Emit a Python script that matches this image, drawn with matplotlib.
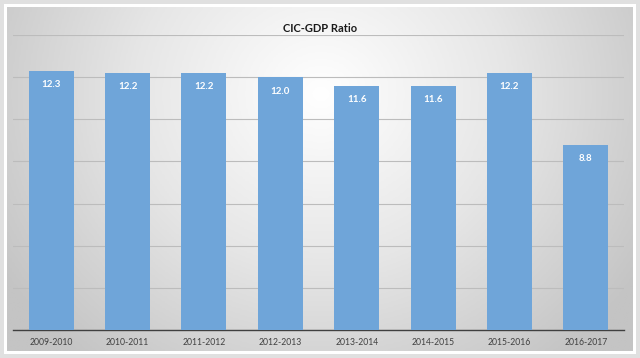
import numpy as np
import matplotlib
matplotlib.use("Agg")
import matplotlib.pyplot as plt
from matplotlib.colors import LinearSegmentedColormap

categories = ["2009-2010", "2010-2011", "2011-2012", "2012-2013",
              "2013-2014", "2014-2015", "2015-2016", "2016-2017"]
values = [12.3, 12.2, 12.2, 12.0, 11.6, 11.6, 12.2, 8.8]
title = "CIC-GDP Ratio"

plt.rcParams['font.family'] = ['Lato', 'DejaVu Sans']

W, H = 640, 358
fig = plt.figure(figsize=(W / 100, H / 100), dpi=100)
fig.patch.set_facecolor("#e0e0e0")

# inner panel with white border
border = fig.add_axes([4 / W, 4 / H, 632 / W, 350 / H])
border.set_facecolor("white")
border.set_xticks([]); border.set_yticks([])
for s in border.spines.values():
    s.set_visible(False)

bg = fig.add_axes([7 / W, 7 / H, 626 / W, 344 / H])
ny, nx = 200, 360
yy, xx = np.mgrid[0:ny, 0:nx]
cx, cy = nx * 0.5, ny * 0.25
d = np.sqrt(((xx - cx) / (nx * 0.6)) ** 2 + ((yy - cy) / (ny * 1.0)) ** 2)
d = np.clip(d, 0, 1)
cmap = LinearSegmentedColormap.from_list("g", ["#ffffff", "#e6e6e6", "#c4c4c4"])
bg.imshow(d, cmap=cmap, aspect="auto", extent=[0, 1, 0, 1], origin="upper")
bg.set_xticks([]); bg.set_yticks([])
for s in bg.spines.values():
    s.set_visible(False)

ax = fig.add_axes([13 / W, (H - 330) / H, 611 / W, 295 / H])
ax.patch.set_alpha(0)
x = np.arange(len(categories))
bars = ax.bar(x, values, width=0.59, color="#6fa5d9", zorder=3)
ax.set_xlim(-0.5, len(categories) - 0.5)
ax.set_ylim(0, 14)
ax.set_yticks(np.arange(0, 15, 2))
ax.yaxis.grid(True, color="#bcbcbc", linewidth=0.8, zorder=0)
ax.tick_params(axis="y", left=False, labelleft=False)
ax.tick_params(axis="x", length=0, pad=6, labelsize=6.2, labelcolor="#404040")
ax.set_xticks(x)
ax.set_xticklabels(categories)
for s in ["top", "right", "left"]:
    ax.spines[s].set_visible(False)
ax.spines["bottom"].set_color("#404040")
ax.spines["bottom"].set_linewidth(1.0)

for b, v in zip(bars, values):
    ax.text(b.get_x() + b.get_width() / 2, v - 0.45, f"{v:.1f}",
            ha="center", va="top", color="white", fontsize=7,
            fontweight="bold", zorder=4)

fig.text(0.5, (H - 29) / H, title, ha="center", va="center",
         fontsize=8, fontweight="bold", color="#1a1a1a")

fig.savefig("out.png", dpi=100)
